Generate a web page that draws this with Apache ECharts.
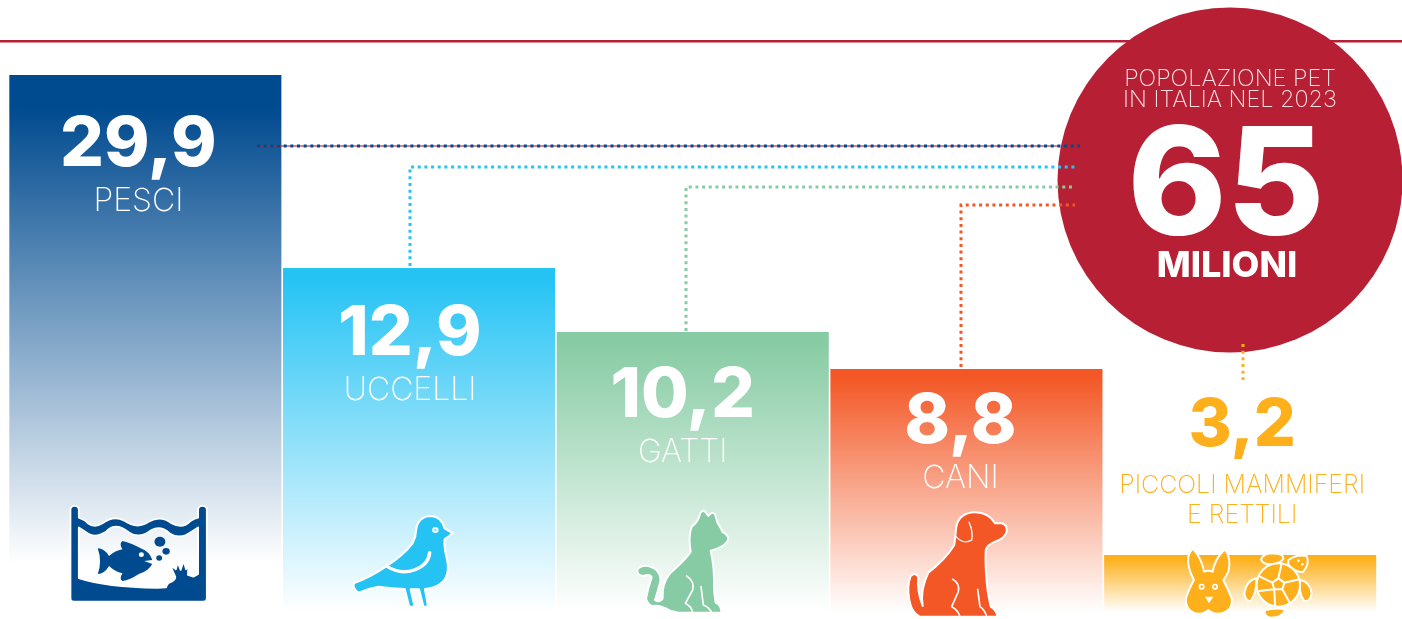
<!DOCTYPE html>
<html><head><meta charset="utf-8">
<style>html,body{margin:0;padding:0;background:#fff}#c{width:1402px;height:619px}</style>
<script src="https://cdn.jsdelivr.net/npm/echarts@6/dist/echarts.min.js"></script>
</head><body><div id="c"></div>
<script>
const categories = ['PESCI', 'UCCELLI', 'GATTI', 'CANI', 'PICCOLI MAMMIFERI\nE RETTILI'];
const values = [29.9, 12.9, 10.2, 8.8, 3.2];
// The bars of the infographic are not proportional to the figures: drawn heights
const drawnHeights = [537, 344, 280, 243, 57];
const totalValue = '65';

const colors = ['#004a8f', '#25c3f4', '#86cba3', '#f35725', '#fdb01b'];
const solidEnd = [0.06, 0.03, 0.03, 0.03, 0.06];
const fadeEnd = [0.91, 1, 1, 1, 1];
const labelOffset = [[-7, 34], [-9, 30], [-10, 28], [-6, 17], [2, 0]];
const FONT = 'Inter, "Noto Sans", sans-serif';

function grad(i) {
  return new echarts.graphic.LinearGradient(0, 0, 0, 1, [
    { offset: 0, color: colors[i] },
    { offset: solidEnd[i], color: colors[i] },
    { offset: fadeEnd[i], color: 'rgba(255,255,255,1)' },
    { offset: 1, color: 'rgba(255,255,255,1)' }
  ]);
}

const W = '#ffffff';
function p(d, fill, stroke, lw) {
  return { type: 'path', shape: { pathData: d }, style: { fill: fill || 'none', stroke: stroke || 'none', lineWidth: lw || 0, lineCap: 'round', lineJoin: 'round' } };
}
function c(cx, cy, r, fill) {
  return { type: 'circle', shape: { cx, cy, r }, style: { fill } };
}
const B = colors[0], L = colors[1], G = colors[2], O = colors[3], Y = colors[4];

const icons = [
  { x: -3, y: 480, sx: 1 / 2.75, sy: 1 / 3, parts: [
    p('M202 90Q202 78 213 78Q225 78 225 90L225 113Q240 118 250 130Q268 145 290 130Q320 105 350 122Q385 150 418 125Q450 105 480 130Q510 148 530 125Q542 115 553 113L553 90Q553 78 565 78Q577 78 577 90L577 355Q577 365 567 365L212 365Q202 365 202 355Z' +
      'M225 142L225 295Q300 322 440 324L465 322Q468 308 480 305Q492 298 490 290L476 255L492 268L497 246L505 270L513 243L520 268L527 243L525 285L540 290L553 282L553 142Q535 155 520 165Q495 175 475 160Q450 135 425 150Q390 180 360 155Q325 125 300 155Q270 175 250 160Z', B, W, 5),
    p('M277 205Q295 205 308 228Q325 212 345 208Q335 190 345 183Q375 192 395 205Q420 215 427 240L405 243L427 252Q415 275 390 282Q365 300 345 303Q335 298 345 280Q325 275 308 258Q295 282 277 282Q290 245 277 205Z', B),
    c(397, 224, 7, W), c(448, 185, 15, B), c(465, 214, 10, B), c(446, 234, 8, B)
  ] },
  { x: 0, y: 480, sx: 1 / 2.8, sy: 1 / 3, parts: [
    p('M990 310Q1040 290 1080 260Q1130 225 1155 190Q1165 170 1165 150Q1170 110 1205 108Q1235 108 1245 145L1268 160L1245 178Q1243 200 1250 230Q1262 280 1240 305Q1220 325 1190 327L1198 375Q1195 385 1185 378L1173 328L1150 328L1160 375Q1155 385 1145 378L1133 327Q1095 325 1060 320Q1030 325 1005 338Q995 335 990 320Z', L, W, 6),
    p('M1082 258Q1120 285 1160 270Q1200 255 1203 218', 'none', W, 10),
    c(1219, 150, 9, W), c(1219, 150, 4, '#8fe0fa')
  ] },
  { x: 620, y: 490, sx: 1 / 3, sy: 1 / 3, parts: [
    p('M240 72Q246 57 256 66L265 78Q276 62 285 73L292 97Q302 112 308 126Q328 136 324 150Q316 170 272 182Q284 230 282 300L287 338Q303 345 305 368L175 368L150 362Q120 345 100 348Q85 350 78 325Q85 290 95 262Q90 250 70 258Q50 255 52 240Q60 225 85 228Q120 235 122 270Q115 300 105 330Q118 340 128 325Q125 280 150 250Q200 205 212 185Q204 140 215 110Q235 95 240 72Z', G, W, 6),
    p('M200 258Q225 275 218 300L196 340Q215 350 218 368', 'none', W, 5),
    p('M243 290L250 345Q268 352 275 368', 'none', W, 5)
  ] },
  { x: 620, y: 490, sx: 1 / 3, sy: 1 / 3, parts: [
    p('M1008 118Q1012 72 1060 67Q1105 65 1125 100L1145 100Q1163 105 1160 125Q1155 145 1125 155Q1100 165 1097 182Q1095 240 1104 310L1112 350Q1130 360 1132 380L900 380Q875 370 868 330Q860 290 872 258Q888 245 895 262Q890 300 908 348Q900 300 925 248Q975 210 1003 165Q1006 140 1008 118Z', O, W, 6),
    p('M1047 97Q1060 125 1055 150Q1030 165 1008 140', 'none', W, 4),
    p('M998 268Q1020 280 1015 305L995 350Q1015 360 1020 380', 'none', W, 5),
    p('M1073 298L1080 350Q1095 360 1100 380', 'none', W, 5)
  ] },
  { x: 1100, y: 530, sx: 1 / 3, sy: 1 / 3, parts: [
    p('M280 58Q305 85 312 125Q325 120 338 125Q345 85 375 58Q395 85 385 125Q378 140 370 150Q385 180 395 205Q400 240 365 250Q340 255 325 240Q310 255 285 250Q255 240 258 205Q265 180 282 150Q260 110 265 80Q270 60 280 58Z', Y, W, 6),
    c(305, 170, 9, W), c(305, 170, 4, Y), c(345, 170, 9, W), c(345, 170, 4, Y),
    p('M315 200L340 200L327 220Z', W),
    p('M483 88Q490 70 520 70Q550 72 550 85Q545 100 510 103Q488 103 483 88Z', Y, W, 6),
    p('M565 90Q590 72 620 78Q630 100 610 125Q590 130 565 105Z', Y, W, 6),
    c(595, 92, 4, W), c(607, 103, 4, W),
    p('M470 145Q440 150 433 190Q437 215 452 213Q470 190 470 145Z', Y, W, 6),
    p('M600 150Q630 155 635 190Q630 218 612 212Q595 190 600 150Z', Y, W, 6),
    p('M495 240Q530 232 555 238Q550 262 510 263Q490 258 495 240Z', Y, W, 6),
    { type: 'circle', shape: { cx: 535, cy: 165, r: 65 }, style: { fill: Y, stroke: W, lineWidth: 6 } },
    p('M517 158L535 145L553 158L547 178L523 178ZM517 158L480 140M535 145L545 100M553 158L598 148M547 178L570 220M523 178L478 183M523 178L525 228', Y, W, 6)
  ] }
];

const connectors = [
  { color: colors[0], pts: [[257, 146], [1080, 146]] },
  { color: colors[1], pts: [[410, 266], [410, 167], [1075, 167]] },
  { color: colors[2], pts: [[686, 331], [686, 187], [1075, 187]] },
  { color: colors[3], pts: [[961, 367], [961, 205], [1075, 205]] },
  { color: colors[4], pts: [[1243, 344], [1243, 380]] }
];

const fmt = v => v.toFixed(1).replace('.', ',');

const barData = values.map((v, i) => ({
  value: drawnHeights[i],
  itemStyle: { color: grad(i) },
  label: i === 4
    ? { show: true, position: 'top', distance: 25, offset: [labelOffset[i][0], 0], color: colors[i], formatter: () => `{v|${fmt(v)}}\n{s|PICCOLI MAMMIFERI}\n{s|E RETTILI}`,
        rich: { v: { fontFamily: FONT, fontWeight: 800, fontSize: 66, lineHeight: 88, color: colors[i] }, s: { fontFamily: FONT, fontWeight: 200, fontSize: 25, lineHeight: 30, color: colors[i] } } }
    : { show: true, position: 'insideTop', distance: 0, offset: [labelOffset[i][0], labelOffset[i][1]], formatter: () => `{v|${fmt(v)}}\n{n|${categories[i]}}`,
        rich: { v: { fontFamily: FONT, fontWeight: 800, fontSize: 69, lineHeight: 72, color: '#fff' }, n: { fontFamily: FONT, fontWeight: 200, fontSize: 32, lineHeight: 36, color: '#fff', padding: [4, 0, 0, 0] } } }
}));

const graphic = [
  { type: 'rect', shape: { x: 0, y: 40, width: 1402, height: 2.6 }, style: { fill: '#b72034' }, z: 1 },
  { type: 'circle', shape: { cx: 1230, cy: 180, r: 172.5 }, style: { fill: '#b72034' }, z: 2 },
  { type: 'text', z: 12, style: { text: 'POPOLAZIONE PET', x: 1230, y: 79, textAlign: 'center', textVerticalAlign: 'middle', fill: '#f8dfe3', font: '200 23.4px ' + FONT } },
  { type: 'text', z: 12, style: { text: 'IN ITALIA NEL 2023', x: 1230, y: 100, textAlign: 'center', textVerticalAlign: 'middle', fill: '#f8dfe3', font: '200 23.4px ' + FONT } },
  { type: 'text', z: 12, style: { text: totalValue, x: 1226, y: 190, textAlign: 'center', textVerticalAlign: 'middle', fill: '#fff', font: '800 150px ' + FONT } },
  { type: 'text', z: 12, style: { text: 'MILIONI', x: 1227, y: 266, textAlign: 'center', textVerticalAlign: 'middle', fill: '#fff', font: '800 36px ' + FONT } },
  { type: 'line', z: 9, shape: { x1: 257, y1: 146, x2: 1058, y2: 146 }, style: { stroke: 'rgba(183,32,52,0.55)', lineWidth: 2 } }
].concat(connectors.map(cn => ({
  type: 'polyline', z: 10, shape: { points: cn.pts },
  style: { stroke: cn.color, fill: 'none', lineWidth: 3, lineDash: [3, 3.67] }
})));

const chart = echarts.init(document.getElementById('c'), null, { renderer: 'canvas' });
chart.setOption({
  animation: false,
  backgroundColor: '#fff',
  grid: { left: 8.5, width: 1368.5, top: 75, bottom: 7, containLabel: false },
  xAxis: { type: 'category', data: categories, show: false },
  yAxis: { type: 'value', min: 0, max: 537, show: false },
  graphic,
  series: [
    { type: 'bar', data: barData, barWidth: '99.4%', z: 2 },
    {
      type: 'custom', z: 5, clip: false, silent: true, coordinateSystem: 'none',
      data: icons.map((_, i) => i),
      renderItem(params, api) {
        const ic = icons[api.value(0)];
        return { type: 'group', x: ic.x, y: ic.y, scaleX: ic.sx, scaleY: ic.sy, children: ic.parts };
      }
    }
  ]
});
</script></body></html>
